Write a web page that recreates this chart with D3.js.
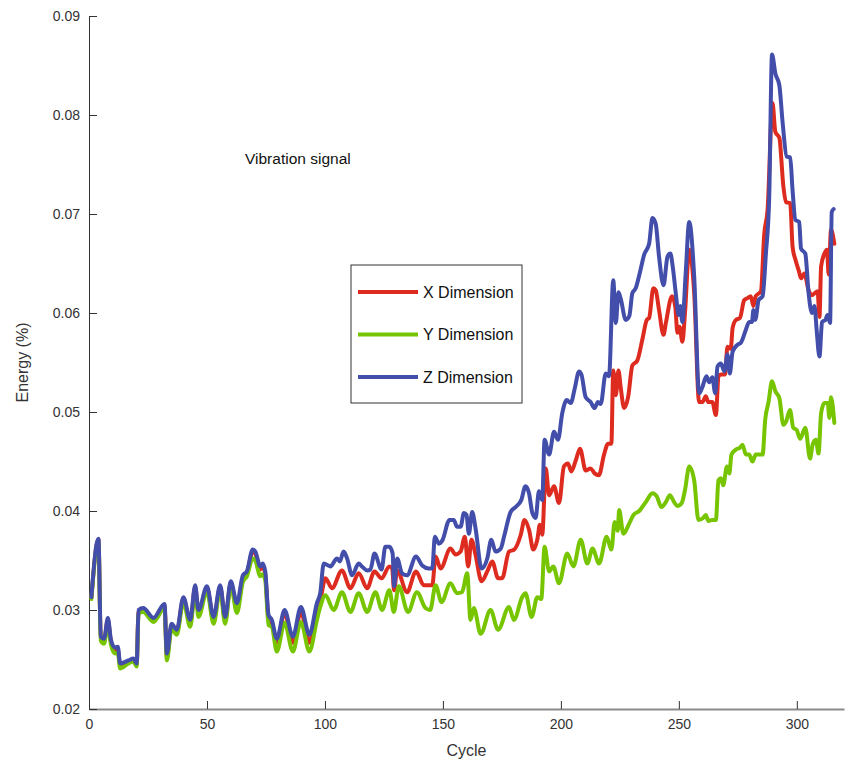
<!DOCTYPE html>
<html>
<head>
<meta charset="utf-8">
<script src="https://cdn.jsdelivr.net/npm/d3@7/dist/d3.min.js"></script>
<style>
  html, body { margin: 0; padding: 0; background: #fff; }
  svg { display: block; font-family: "Liberation Sans", Arial, Helvetica, sans-serif; }
</style>
</head>
<body>
<svg id="chart" width="846" height="763"></svg>
<script>
// Vibration energy per cycle for the three measurement axes
const seriesNames = ["X Dimension", "Y Dimension", "Z Dimension"];
const seriesColors = ["#de2b1f", "#76c500", "#424eaa"];

const cyclesX = [1,4,5,6.4,8,9.3,11,12.2,13.2,16.7,18.8,20.2,21,23,27.3,32,33,35,37.2,40,42.9,45,46.4,50,52.8,55.6,57.7,60.1,62.7,65.2,66.9,69.4,70.5,72.6,73.6,74.7,76.1,77.5,79.6,82.9,86.4,89.8,93.4,96.6,98,100.2,103,107.2,110.8,114.3,117.9,121,124,127.3,128.5,129.3,130.6,134.8,138.6,141.9,145.5,146.9,149,153.2,155.4,157.5,159.3,160.7,162.1,163.8,166.4,168.8,170.9,173.4,175.1,178,180.2,183,184.6,186.5,188.3,190,191.1,192.1,193.6,195,197.1,199.2,201.3,203,204.4,206.3,208.1,210.5,212.6,214.3,216.1,218.3,220,221.4,222.2,223.3,224.4,225.4,226.8,228.5,230.3,232.4,234.6,236.4,237.4,239.2,240.2,241.6,243.5,244.5,247.1,248.5,249.4,250.3,251.5,252.6,254.4,256.5,258.6,260,261.4,262.5,264.2,265.7,266.8,267.8,269.6,270.6,272,272.8,274.2,275.9,277.7,279.1,280.5,281.6,282.6,284.8,286.2,287.6,289.7,290.9,292.6,294.3,295.4,297.2,298.2,299.4,300.8,301.8,303.2,305,306.4,308.8,309.6,310.3,311.7,312.8,313.5,314.5,315.9];
const energyX = [0.0312,0.0371,0.0271,0.0269,0.0290,0.0268,0.0259,0.0260,0.0244,0.0248,0.0250,0.0245,0.0299,0.0300,0.0290,0.0304,0.0253,0.0284,0.0278,0.0311,0.0287,0.0323,0.0297,0.0322,0.0290,0.0323,0.0290,0.0327,0.0302,0.0332,0.0337,0.0359,0.0357,0.0341,0.0344,0.0336,0.0291,0.0287,0.0267,0.0297,0.0267,0.0298,0.0267,0.0303,0.0310,0.0332,0.0322,0.0340,0.0322,0.0337,0.0322,0.0339,0.0332,0.0344,0.0342,0.0320,0.0340,0.0318,0.0339,0.0325,0.0325,0.0354,0.0342,0.0362,0.0356,0.0359,0.0374,0.0344,0.0371,0.0356,0.0329,0.0339,0.0349,0.0332,0.0332,0.0359,0.0361,0.0376,0.0391,0.0381,0.0361,0.0371,0.0386,0.0376,0.0443,0.0416,0.0425,0.0408,0.0445,0.0448,0.0440,0.0451,0.0463,0.0441,0.0443,0.0438,0.0436,0.0457,0.0468,0.0468,0.0542,0.0517,0.0542,0.0524,0.0504,0.0515,0.0547,0.0552,0.0574,0.0593,0.0595,0.0625,0.0623,0.0603,0.0578,0.0590,0.0617,0.0606,0.0580,0.0586,0.0571,0.0600,0.0664,0.0620,0.0510,0.0510,0.0516,0.0510,0.0510,0.0497,0.0536,0.0538,0.0538,0.0566,0.0564,0.0585,0.0593,0.0595,0.0613,0.0615,0.0617,0.0607,0.0617,0.0622,0.0680,0.0704,0.0812,0.0783,0.0777,0.0728,0.0712,0.0711,0.0667,0.0654,0.0643,0.0635,0.0640,0.0623,0.0618,0.0622,0.0596,0.0647,0.0660,0.0664,0.0639,0.0684,0.0670];

const cyclesY = [1,4,5,6.4,8,9.3,11,12.2,13.2,16.7,18.8,20.2,21,23,27.3,32,33,35,37.2,40,42.9,45,46.4,50,52.8,55.6,57.7,60.1,62.7,65.2,66.9,69.4,70.5,72.6,73.6,74.7,76.1,77.5,79.6,82.9,86.4,89.8,93.4,96.6,98,100.2,103.7,107.2,110.8,114.3,117.9,121.4,124.2,127.3,129.2,131.3,135.2,139,142.6,144.6,146.9,149.4,153.2,156,158.1,160.3,161.7,163.1,166,170.2,173.4,178,180.1,183.6,185,187.6,190,191.7,193.1,195,196.8,199.2,202.7,205.3,208.4,211.2,213.4,216.2,219.4,221.4,222.8,224.1,224.7,226.5,228.9,230.8,233.2,236,238.8,240.6,242.6,244.5,246.2,248,249.4,251.2,252.6,254.4,256.5,258.3,260.3,261.4,262.5,264.2,265.7,266.8,267.8,268.8,270.4,271.4,272.3,274.2,275.9,277,278.4,279.8,281.2,282.6,285.5,286.6,288,289.5,290.9,292.6,294.3,295.4,297.1,298.5,299.9,301.4,303.6,305.6,306.7,308.1,309.2,310.3,311.7,313.1,313.8,314.5,315.9];
const energyY = [0.0311,0.0369,0.0269,0.0266,0.0287,0.0265,0.0256,0.0257,0.0241,0.0246,0.0248,0.0243,0.0297,0.0298,0.0288,0.0302,0.0249,0.0281,0.0275,0.0308,0.0283,0.0320,0.0293,0.0319,0.0286,0.0320,0.0286,0.0325,0.0297,0.0328,0.0334,0.0352,0.0350,0.0334,0.0336,0.0330,0.0285,0.0283,0.0258,0.0287,0.0258,0.0288,0.0258,0.0290,0.0303,0.0315,0.0300,0.0318,0.0298,0.0317,0.0298,0.0318,0.0300,0.0320,0.0298,0.0324,0.0298,0.0318,0.0302,0.0300,0.0325,0.0308,0.0327,0.0317,0.0318,0.0337,0.0290,0.0302,0.0276,0.0300,0.0280,0.0303,0.0290,0.0313,0.0317,0.0293,0.0313,0.0311,0.0364,0.0339,0.0344,0.0327,0.0357,0.0344,0.0371,0.0347,0.0362,0.0347,0.0374,0.0361,0.0389,0.0380,0.0401,0.0377,0.0387,0.0396,0.0400,0.0409,0.0418,0.0415,0.0404,0.0409,0.0416,0.0409,0.0405,0.0408,0.0421,0.0445,0.0431,0.0391,0.0393,0.0396,0.0390,0.0391,0.0391,0.0431,0.0433,0.0426,0.0445,0.0438,0.0457,0.0462,0.0464,0.0467,0.0457,0.0457,0.0450,0.0457,0.0457,0.0492,0.0510,0.0531,0.0521,0.0514,0.0487,0.0490,0.0502,0.0484,0.0482,0.0473,0.0484,0.0453,0.0467,0.0472,0.0458,0.0499,0.0509,0.0509,0.0494,0.0515,0.0489];

const cyclesZ = [1,4,5,6.4,8,9.3,11,12.2,13.2,16.7,18.8,20.2,21,23,27.3,32,33,35,37.2,40,42.9,45,46.4,50,52.8,55.6,57.7,60.1,62.7,65.2,66.9,69.4,70.5,72.6,73.6,74.7,76.1,77.5,79.6,82.9,86.4,89.8,93.4,96.6,98,99.5,102.3,105.1,106.3,107.9,109.4,111.5,114.3,115.7,117.9,119.3,121,124,125.6,127.3,128.7,129.3,130.6,132.7,134.8,138.6,141.2,144,145.5,146.6,148.3,149.7,152.8,154.6,156,157.5,158.9,160,161,162.4,163.8,166.4,168.8,170.5,172.3,174.5,175.9,178.7,180.8,183.2,185,186.5,187.9,189.3,190.7,192.1,193.1,195,197.1,198.8,200.6,202.5,204.2,205.9,207.7,208.7,210.5,212.6,214.3,215.7,216.9,219,220.4,222.2,223.3,224.4,225.4,227.5,229,230.3,231.7,233.6,235.3,237.4,238.8,240.2,241.6,243.5,245.2,246.4,247.4,248.7,249.9,250.6,251.5,252.9,254.4,256.5,258.6,259.8,261.7,262.9,264.2,265.4,266.4,267.8,269.3,270.6,271.6,272.8,274.9,276.3,278.4,279.8,281,281.6,282.4,283.8,285.5,286.9,288.3,289.5,290.9,292.6,294,295.7,297.2,298.2,299.4,301,301.8,303.6,305,306.4,307.5,308.4,309.6,310.7,312.1,313,314.1,314.8,315.6];
const energyZ = [0.0313,0.0372,0.0273,0.0271,0.0292,0.0270,0.0262,0.0263,0.0246,0.0249,0.0251,0.0246,0.0300,0.0302,0.0292,0.0306,0.0256,0.0286,0.0280,0.0313,0.0290,0.0325,0.0300,0.0324,0.0293,0.0325,0.0293,0.0329,0.0307,0.0335,0.0339,0.0361,0.0359,0.0344,0.0347,0.0339,0.0295,0.0290,0.0271,0.0300,0.0273,0.0303,0.0275,0.0307,0.0317,0.0347,0.0344,0.0352,0.0349,0.0359,0.0352,0.0335,0.0347,0.0344,0.0340,0.0341,0.0357,0.0341,0.0364,0.0364,0.0357,0.0324,0.0352,0.0337,0.0335,0.0354,0.0345,0.0342,0.0342,0.0374,0.0367,0.0370,0.0391,0.0391,0.0384,0.0384,0.0398,0.0396,0.0377,0.0399,0.0383,0.0342,0.0352,0.0371,0.0359,0.0362,0.0374,0.0399,0.0404,0.0411,0.0425,0.0418,0.0398,0.0393,0.0420,0.0411,0.0472,0.0457,0.0480,0.0472,0.0499,0.0512,0.0509,0.0524,0.0541,0.0538,0.0515,0.0510,0.0504,0.0510,0.0508,0.0539,0.0536,0.0633,0.0590,0.0621,0.0614,0.0593,0.0597,0.0620,0.0625,0.0642,0.0659,0.0670,0.0696,0.0690,0.0657,0.0628,0.0657,0.0660,0.0647,0.0620,0.0598,0.0607,0.0591,0.0640,0.0692,0.0637,0.0519,0.0524,0.0536,0.0530,0.0535,0.0519,0.0546,0.0549,0.0541,0.0558,0.0539,0.0561,0.0568,0.0570,0.0583,0.0591,0.0591,0.0603,0.0593,0.0613,0.0617,0.0660,0.0717,0.0861,0.0842,0.0830,0.0792,0.0758,0.0757,0.0724,0.0694,0.0692,0.0665,0.0660,0.0620,0.0600,0.0607,0.0583,0.0556,0.0591,0.0593,0.0598,0.0590,0.0702,0.0705];

const xTicks = [0, 50, 100, 150, 200, 250, 300];
const yTicks = [0.02, 0.03, 0.04, 0.05, 0.06, 0.07, 0.08, 0.09];

const svg = d3.select("#chart");
const plot = { left: 89, right: 844, top: 16, bottom: 709 };

const x = d3.scaleLinear().domain([0, 320]).range([plot.left, plot.right]);
const y = d3.scaleLinear().domain([0.02, 0.09]).range([plot.bottom, plot.top]);

// Axes with inward ticks
const xAxis = svg.append("g")
  .attr("transform", `translate(0,${plot.bottom})`)
  .call(d3.axisBottom(x).tickValues(xTicks).tickSizeInner(-8).tickSizeOuter(0).tickPadding(10).tickFormat(d3.format("d")));
xAxis.select(".domain").attr("stroke", "#8a8a8a").attr("stroke-width", 2);
xAxis.selectAll(".tick line").attr("stroke", "#333");
xAxis.selectAll("text").attr("fill", "#333").attr("font-size", 14);

const yAxis = svg.append("g")
  .attr("transform", `translate(${plot.left},0)`)
  .call(d3.axisLeft(y).tickValues(yTicks).tickSizeInner(-8).tickSizeOuter(0).tickPadding(9).tickFormat(d3.format(".2f")));
yAxis.select(".domain").attr("stroke", "#333").attr("stroke-width", 1);
yAxis.selectAll(".tick line").attr("stroke", "#333");
yAxis.selectAll("text").attr("fill", "#333").attr("font-size", 14);

// Axis titles
svg.append("text")
  .attr("x", (plot.left + plot.right) / 2).attr("y", 756)
  .attr("text-anchor", "middle").attr("font-size", 16).attr("fill", "#333")
  .text("Cycle");
svg.append("text")
  .attr("transform", `translate(28,${(plot.top + plot.bottom) / 2}) rotate(-90)`)
  .attr("text-anchor", "middle").attr("font-size", 16).attr("fill", "#333")
  .text("Energy (%)");

// Series lines
const series = [
  { name: seriesNames[0], color: seriesColors[0], cycles: cyclesX, values: energyX },
  { name: seriesNames[1], color: seriesColors[1], cycles: cyclesY, values: energyY },
  { name: seriesNames[2], color: seriesColors[2], cycles: cyclesZ, values: energyZ }
];
const line = d3.line().curve(d3.curveMonotoneX).x(d => x(d[0])).y(d => y(d[1]));

svg.append("g").selectAll("path")
  .data(series)
  .join("path")
  .attr("d", s => line(s.cycles.map((c, i) => [c, s.values[i]])))
  .attr("fill", "none")
  .attr("stroke", s => s.color)
  .attr("stroke-width", 4)
  .attr("stroke-linejoin", "round")
  .attr("stroke-linecap", "round");

// Annotation
svg.append("text")
  .attr("x", 245).attr("y", 164)
  .attr("font-size", 15.5).attr("fill", "#111")
  .text("Vibration signal");

// Legend
const legend = svg.append("g").attr("transform", "translate(351,265)");
legend.append("rect")
  .attr("width", 171).attr("height", 138)
  .attr("fill", "#fff").attr("stroke", "#333").attr("stroke-width", 1);
const rows = legend.selectAll("g.row")
  .data(series)
  .join("g")
  .attr("class", "row")
  .attr("transform", (d, i) => `translate(0,${27 + i * 42.5})`);
rows.append("line")
  .attr("x1", 7).attr("x2", 67).attr("y1", 0).attr("y2", 0)
  .attr("stroke", d => d.color).attr("stroke-width", 4);
rows.append("text")
  .attr("x", 72).attr("y", 5.5)
  .attr("font-size", 16).attr("fill", "#111")
  .text(d => d.name);
</script>
</body>
</html>
